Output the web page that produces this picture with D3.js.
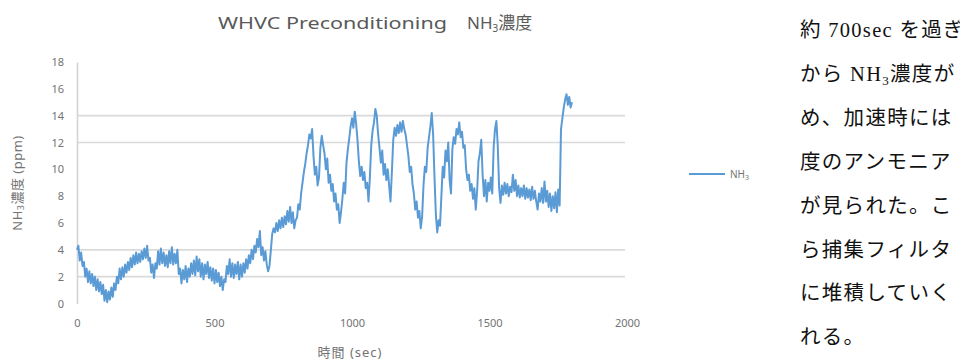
<!DOCTYPE html>
<html>
<head>
<meta charset="utf-8">
<script src="https://cdn.jsdelivr.net/npm/d3@7"></script>
<style>
  html, body { margin: 0; padding: 0; background: #fff; overflow: hidden; }
  svg { display: block; }
</style>
</head>
<body>
<svg id="chart" width="960" height="360"></svg>
<script>
// NH3 濃度 (ppm)、5 秒ごと、0〜1800 sec
const sampleStep = 5;
const nh3Values = [
  4.0, 4.3, 3.2, 3.8, 2.8, 3.1, 2.0, 2.6, 1.6, 2.4, 1.5, 2.2, 1.3, 2.0, 1.0, 1.8, 0.9, 1.6, 0.7, 1.4,        // 0-
  0.2, 1.0, 0.1, 0.9, 0.3, 1.2, 0.5, 1.5, 1.0, 2.0, 1.5, 2.6, 1.8, 2.7, 2.0, 2.9, 2.3, 3.1, 2.5, 3.4,        // 100-
  2.7, 3.6, 2.9, 3.8, 3.0, 3.7, 3.1, 3.9, 3.3, 4.1, 3.4, 4.3, 3.2, 3.4, 2.3, 2.9, 1.9, 3.0, 2.6, 3.9,        // 200-
  2.9, 4.1, 3.0, 3.8, 2.8, 3.6, 2.7, 3.9, 3.0, 4.2, 2.9, 3.7, 3.0, 4.0, 2.2, 2.6, 1.5, 2.5, 1.8, 2.8,        // 300-
  1.6, 2.6, 2.0, 3.0, 2.2, 3.2, 2.1, 3.5, 2.4, 3.3, 2.0, 3.0, 1.8, 2.9, 2.2, 3.1, 1.9, 2.7, 1.7, 2.6,        // 400-
  1.5, 2.5, 1.6, 2.3, 1.3, 2.0, 1.0, 1.8, 1.6, 2.8, 2.2, 3.3, 2.0, 3.0, 1.9, 2.9, 2.2, 3.1, 1.8, 2.9,        // 500-
  2.0, 3.0, 2.3, 3.3, 2.6, 3.6, 3.0, 4.0, 3.3, 4.3, 3.8, 4.8, 4.2, 5.4, 3.6, 4.2, 3.2, 3.9, 2.9, 2.4,        // 600-
  2.8, 4.0, 5.2, 5.6, 5.3, 6.0, 5.4, 6.2, 5.6, 6.4, 5.7, 6.5, 5.9, 6.9, 6.1, 7.2, 6.0, 6.8, 5.6, 6.2,        // 700-
  6.4, 7.4, 7.0, 8.2, 9.0, 9.8, 10.4, 11.2, 11.8, 12.6, 12.3, 13.0, 11.0, 9.6, 10.2, 8.8, 9.4, 11.6, 12.5, 11.8, // 800-
  11.2, 10.0, 10.8, 9.0, 9.6, 8.4, 8.9, 7.6, 8.2, 7.0, 7.4, 6.0, 6.8, 7.8, 9.0, 8.2, 10.5, 11.5, 12.3, 13.2,   // 900-
  13.8, 13.1, 14.3, 13.4, 12.2, 10.6, 9.5, 10.2, 9.2, 9.8, 8.6, 9.0, 7.6, 9.4, 11.8, 12.9, 13.5, 14.5, 14.0, 12.6, // 1000-
  11.6, 10.5, 11.4, 9.6, 10.4, 9.2, 10.0, 8.8, 7.6, 9.8, 12.2, 13.1, 12.5, 13.3, 12.7, 13.5, 12.8, 13.6, 13.0, 12.6, // 1100-
  11.8, 11.0, 9.8, 10.2, 8.9, 8.2, 7.0, 7.6, 6.4, 6.9, 5.6, 6.5, 8.8, 10.2, 9.8, 11.6, 12.4, 13.2, 14.2, 12.6,  // 1200-
  9.4, 6.6, 5.3, 6.2, 5.8, 8.0, 10.2, 9.4, 11.4, 10.6, 12.0, 9.2, 8.2, 11.5, 12.4, 11.9, 13.0, 12.6, 13.5, 12.4, // 1300-
  12.8, 11.6, 11.8, 10.0, 9.2, 9.6, 8.4, 8.9, 7.8, 8.6, 7.0, 8.4, 10.6, 11.2, 12.2, 9.6, 8.0, 9.2, 7.6, 9.0,    // 1400-
  8.4, 9.4, 8.2, 11.6, 13.0, 13.6, 11.8, 8.6, 7.5, 8.8, 8.1, 9.0, 8.2, 8.9, 8.0, 8.7, 8.3, 9.6, 8.4, 9.2,       // 1500-
  8.0, 8.8, 7.9, 8.6, 8.0, 8.8, 7.8, 8.6, 7.9, 8.5, 7.7, 8.7, 7.8, 8.4, 7.6, 7.0, 8.2, 7.6, 8.6, 7.5,          // 1600-
  9.1, 7.6, 8.4, 7.2, 8.2, 6.9, 8.0, 7.1, 8.3, 6.8, 8.5, 7.3, 13.0, 13.8, 14.6, 15.2, 15.6, 14.8, 15.4, 14.6,   // 1700-
  15.0                                                                                                      // 1800
];

const xTicks = [0, 500, 1000, 1500, 2000];
const yTicks = [0, 2, 4, 6, 8, 10, 12, 14, 16, 18];
// スキャン画像で残っている目盛線だけ
const gridValues = [2, 4, 12, 14];

const titleMain = 'WHVC Preconditioning';
const titleSub = 'NH{3}濃度';
const yLabel = 'NH{3}濃度 (ppm)';
const xLabel = '時間 (sec)';
const seriesName = 'NH{3}';

// 本文は右端で切れている（元の図と同じ）
const bodyLines = [
  '約 700sec を過ぎ',
  'から NH{3}濃度が',
  'め、加速時には',
  '度のアンモニア',
  'が見られた。こ',
  'ら捕集フィルタ',
  'に堆積していく',
  'れる。'
];

const svg = d3.select('#chart');
const chartFont = '"Noto Sans", "Noto Sans CJK JP", sans-serif';
const lineColor = '#5b9bd5';
const textGray = '#737373';

// {3} を下付き文字にして追加
function richText(sel, str, subSize, shift) {
  let shifted = false;
  str.split(/(\{\d\})/).forEach(part => {
    if (!part) return;
    const m = part.match(/^\{(\d)\}$/);
    if (m) {
      sel.append('tspan').attr('dy', shift).attr('font-size', subSize).text(m[1]);
      shifted = true;
    } else {
      const t = sel.append('tspan').text(part);
      if (shifted) { t.attr('dy', -shift); shifted = false; }
    }
  });
  return sel;
}

const x = d3.scaleLinear().domain([0, 2000]).range([77, 627]);
const y = d3.scaleLinear().domain([0, 18]).range([303.5, 62]);

// 目盛線
svg.append('g')
  .attr('class', 'grid')
  .selectAll('line')
  .data(gridValues)
  .join('line')
  .attr('x1', x(0))
  .attr('x2', 625)
  .attr('y1', d => y(d))
  .attr('y2', d => y(d))
  .attr('stroke', '#dadada')
  .attr('stroke-width', 1.6);

// Y軸
svg.append('g')
  .attr('transform', `translate(${x(0)},0)`)
  .call(d3.axisLeft(y).tickValues(yTicks).tickSize(0).tickPadding(13))
  .call(g => {
    g.select('.domain').attr('stroke', '#d4d4d4').attr('stroke-width', 1.6);
    g.selectAll('.tick text')
      .attr('fill', textGray)
      .attr('font-size', 11)
      .attr('font-family', chartFont);
  });

// X軸
svg.append('g')
  .attr('transform', `translate(0,${y(0)})`)
  .call(d3.axisBottom(x).tickValues(xTicks).tickFormat(d3.format('d')).tickSize(0).tickPadding(16))
  .call(g => {
    g.select('.domain').remove();
    g.selectAll('.tick text')
      .attr('fill', textGray)
      .attr('font-size', 11)
      .attr('font-family', chartFont);
  });

// データ線
const line = d3.line()
  .x((d, i) => x(i * sampleStep))
  .y(d => y(d));

svg.append('path')
  .datum(nh3Values)
  .attr('d', line)
  .attr('fill', 'none')
  .attr('stroke', lineColor)
  .attr('stroke-width', 2)
  .attr('stroke-linejoin', 'round');

// タイトル
svg.append('text')
  .attr('x', 218).attr('y', 29)
  .attr('font-family', chartFont)
  .attr('font-size', 17)
  .attr('fill', '#595959')
  .attr('textLength', 229)
  .attr('lengthAdjust', 'spacingAndGlyphs')
  .text(titleMain);

richText(svg.append('text')
  .attr('x', 467).attr('y', 29)
  .attr('font-family', chartFont)
  .attr('font-size', 17)
  .attr('fill', '#595959'), titleSub, 10, 3);

// 軸タイトル
richText(svg.append('text')
  .attr('transform', 'translate(22,183) rotate(-90)')
  .attr('text-anchor', 'middle')
  .attr('font-family', chartFont)
  .attr('font-size', 13)
  .attr('letter-spacing', 0.5)
  .attr('fill', textGray), yLabel, 9, 2);

svg.append('text')
  .attr('x', 350).attr('y', 357)
  .attr('text-anchor', 'middle')
  .attr('font-family', chartFont)
  .attr('font-size', 13)
  .attr('letter-spacing', 1)
  .attr('fill', textGray)
  .text(xLabel);

// 凡例
const legend = svg.append('g').attr('transform', 'translate(689,174)');
legend.append('line')
  .attr('x1', 0).attr('x2', 36)
  .attr('stroke', lineColor)
  .attr('stroke-width', 2);
richText(legend.append('text')
  .attr('x', 41).attr('y', 4)
  .attr('font-family', chartFont)
  .attr('font-size', 10)
  .attr('fill', textGray), seriesName, 7, 2);

// 右側の本文
const body = svg.append('g').attr('class', 'body-text');
bodyLines.forEach((s, i) => {
  const t = body.append('text')
    .attr('x', 800)
    .attr('y', 37 + i * 43.9)
    .attr('font-family', '"Liberation Serif", "Noto Sans CJK JP", serif')
    .attr('font-size', 20.5)
    .attr('letter-spacing', 1.3)
    .attr('fill', '#111');
  richText(t, s, 13, 4);
});
</script>
</body>
</html>
